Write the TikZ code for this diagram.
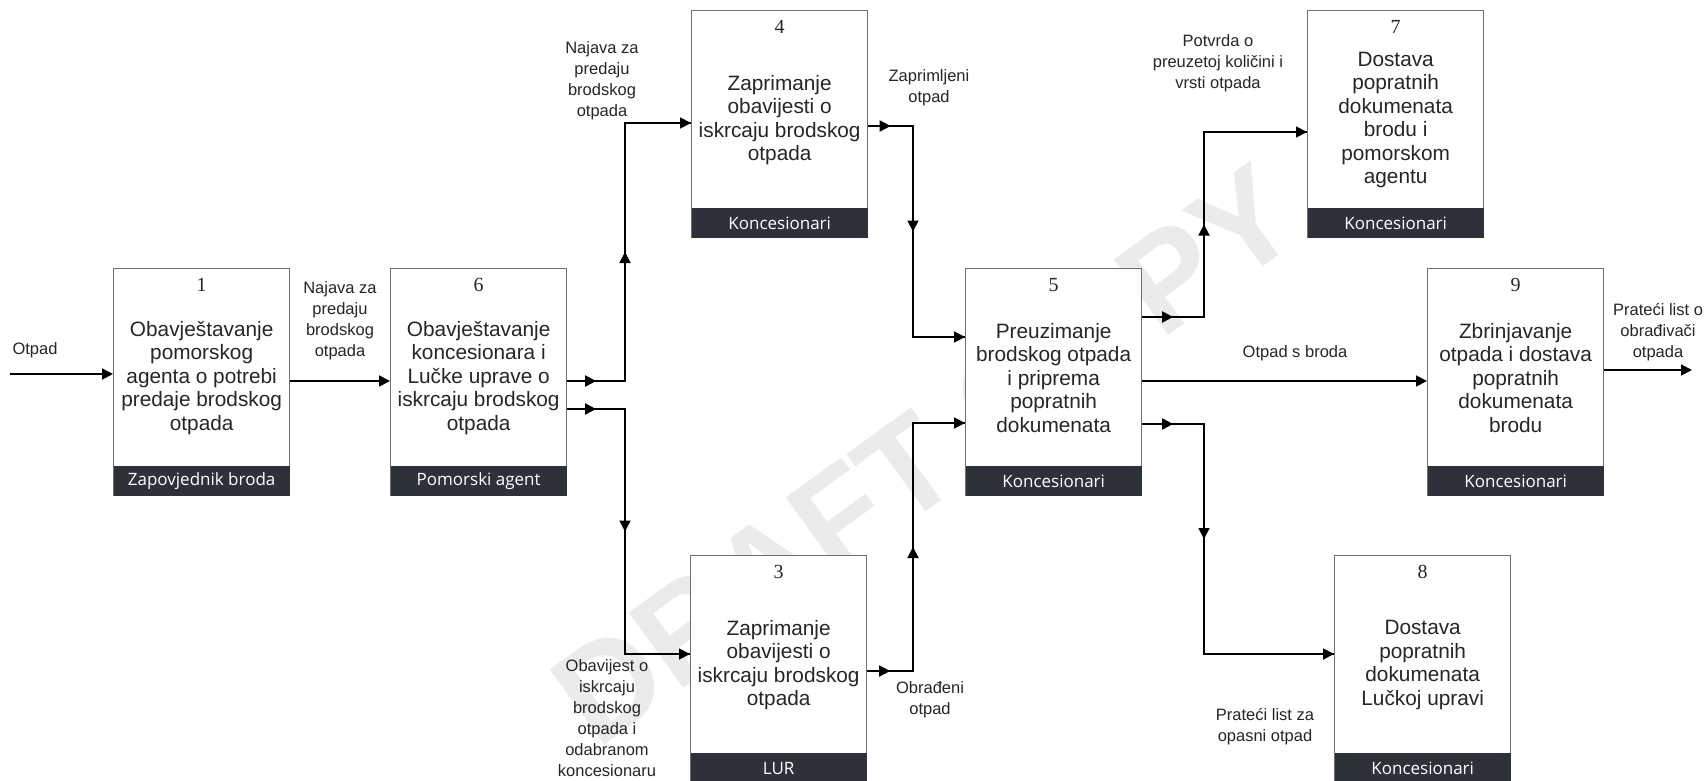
\documentclass[tikz,border=0pt]{standalone}
\usepackage{fontspec}
\setmainfont{Liberation Sans}
\newfontfamily\numfont{Liberation Serif}
\newfontfamily\barfont{Open Sans}
\usetikzlibrary{arrows.meta,calc}
\definecolor{barcol}{HTML}{2D323A}
\definecolor{edgecol}{HTML}{707070}
\definecolor{txtcol}{HTML}{262626}
\newcommand{\procbox}[6]{%
  \node[box] (#1) at (#2,#3) {};
  \node[barbox] (#1bar) at (#1.south) {#6};
  \node[num] (#1num) at ([yshift=-17pt]#1.north) {#4};
  \node[txt] (#1txt) at ([yshift=-110pt]#1.north) {#5};
}
\newcommand{\marr}[2]{\draw[arr] (#1) -- ($(#1)!0.5!(#2)$);}
\begin{document}
\begin{tikzpicture}[x=1pt,y=-1pt,
  box/.style={draw=edgecol, line width=1.3pt, fill=white, minimum width=176pt, minimum height=227pt, anchor=north west, inner sep=0pt},
  barbox/.style={fill=barcol, text=white, minimum width=176pt, minimum height=30pt, anchor=south, inner sep=0pt, font=\barfont\fontsize{17}{19}\selectfont},
  num/.style={inner sep=0pt, text=txtcol, font=\numfont\fontsize{20}{22}\selectfont},
  txt/.style={align=center, inner sep=0pt, text=txtcol, font=\fontsize{20.8}{23.5}\selectfont},
  lbl/.style={align=center, inner sep=0pt, text=black!85, font=\fontsize{16.5}{21}\selectfont},
  conn/.style={line width=1.8pt, black},
  arr/.style={conn, -{Triangle[length=11pt,width=11pt]}},
]
\useasboundingbox (0,0) rectangle (1706,781);
\fill[white] (0,0) rectangle (1706,781);
% watermark
\node[rotate=36, text=black!8, font=\bfseries\fontsize{135}{135}\selectfont] (wm) at (925,455) {DRAFT COPY};

% boxes
\procbox{b1}{113}{268}{1}{Obavještavanje\\pomorskog\\agenta o potrebi\\predaje brodskog\\otpada}{Zapovjednik broda}
\procbox{b6}{390}{268}{6}{Obavještavanje\\koncesionara i\\Lučke uprave o\\iskrcaju brodskog\\otpada}{Pomorski agent}
\procbox{b4}{691}{10}{4}{Zaprimanje\\obavijesti o\\iskrcaju brodskog\\otpada}{Koncesionari}
\procbox{b3}{690}{555}{3}{Zaprimanje\\obavijesti o\\iskrcaju brodskog\\otpada}{LUR}
\procbox{b5}{965}{268}{5}{Preuzimanje\\brodskog otpada\\i priprema\\popratnih\\dokumenata}{Koncesionari}
\procbox{b7}{1307}{10}{7}{Dostava\\popratnih\\dokumenata\\brodu i\\pomorskom\\agentu}{Koncesionari}
\procbox{b9}{1427}{268}{9}{Zbrinjavanje\\otpada i dostava\\popratnih\\dokumenata\\brodu}{Koncesionari}
\procbox{b8}{1334}{555}{8}{Dostava\\popratnih\\dokumenata\\Lučkoj upravi}{Koncesionari}

% connectors
\coordinate (src) at (10,374);
\draw[arr] (src) -- (src -| b1.west);
\coordinate (s16) at (b1.east |- 0,381);
\draw[arr] (s16) -- (s16 -| b6.west);

% 6 -> 4
\coordinate (s6u) at (b6.east |- 0,381);
\coordinate (k1) at (625,381);
\coordinate (k2) at (625,123);
\coordinate (e4) at (b4.west |- k2);
\draw[conn] (s6u) -- (k1) -- (k2) -- (e4);
\marr{s6u}{k1}\marr{k1}{k2}
\draw[arr] (k2) -- (e4);

% 6 -> 3
\coordinate (s6l) at (b6.east |- 0,409);
\coordinate (k3) at (625,409);
\coordinate (k4) at (625,654);
\coordinate (e3) at (b3.west |- k4);
\draw[conn] (s6l) -- (k3) -- (k4) -- (e3);
\marr{s6l}{k3}\marr{k3}{k4}
\draw[arr] (k4) -- (e3);

% 4 -> 5
\coordinate (s4) at (b4.east |- 0,126);
\coordinate (k5) at (913,126);
\coordinate (k6) at (913,337);
\coordinate (e5a) at (b5.west |- k6);
\draw[conn] (s4) -- (k5) -- (k6) -- (e5a);
\marr{s4}{k5}\marr{k5}{k6}
\draw[arr] (k6) -- (e5a);

% 3 -> 5
\coordinate (s3) at (b3.east |- 0,671);
\coordinate (k7) at (913,671);
\coordinate (k8) at (913,423);
\coordinate (e5b) at (b5.west |- k8);
\draw[conn] (s3) -- (k7) -- (k8) -- (e5b);
\marr{s3}{k7}\marr{k7}{k8}
\draw[arr] (k8) -- (e5b);

% 5 -> 7
\coordinate (s5u) at (b5.east |- 0,317);
\coordinate (k9) at (1204,317);
\coordinate (k10) at (1204,132);
\coordinate (e7) at (b7.west |- k10);
\draw[conn] (s5u) -- (k9) -- (k10) -- (e7);
\marr{s5u}{k9}\marr{k9}{k10}
\draw[arr] (k10) -- (e7);

% 5 -> 9
\coordinate (s5m) at (b5.east |- 0,381);
\draw[arr] (s5m) -- (s5m -| b9.west);

% 5 -> 8
\coordinate (s5l) at (b5.east |- 0,424);
\coordinate (k11) at (1204,424);
\coordinate (k12) at (1204,654);
\coordinate (e8) at (b8.west |- k12);
\draw[conn] (s5l) -- (k11) -- (k12) -- (e8);
\marr{s5l}{k11}\marr{k11}{k12}
\draw[arr] (k12) -- (e8);

% 9 -> out
\coordinate (s9) at (b9.east |- 0,370);
\coordinate (dst) at (1692,370);
\draw[arr] (s9) -- (dst);

% labels
\node[lbl] (l0) at (35,350) {Otpad};
\node[lbl] (l1) at (340,321) {Najava za\\predaju\\brodskog\\otpada};
\node[lbl] (l2) at (602,81) {Najava za\\predaju\\brodskog\\otpada};
\node[lbl] (l3) at (929,88) {Zaprimljeni\\otpad};
\node[lbl] (l4) at (607,718) {Obavijest o\\iskrcaju\\brodskog\\otpada i\\odabranom\\koncesionaru};
\node[lbl] (l5) at (930,700) {Obrađeni\\otpad};
\node[lbl] (l6) at (1218,63) {Potvrda o\\preuzetoj količini i\\vrsti otpada};
\node[lbl] (l7) at (1295,353) {Otpad s broda};
\node[lbl] (l8) at (1658,332) {Prateći list o\\obrađivači\\otpada};
\node[lbl] (l9) at (1265,727) {Prateći list za\\opasni otpad};
\end{tikzpicture}
\end{document}
